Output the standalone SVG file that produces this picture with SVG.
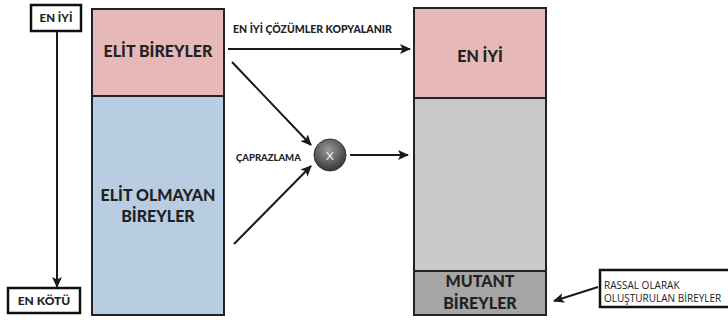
<svg xmlns="http://www.w3.org/2000/svg" width="728" height="320" viewBox="0 0 728 320">
<style>
text{font-family:Lato,"Open Sans","Liberation Sans",sans-serif;font-weight:bold;fill:#222}
.box{fill:#fff;stroke:#111;stroke-width:2.5}
.col{stroke:#222;stroke-width:2}
.ln{stroke:#1a1a1a;stroke-width:2;fill:none;marker-end:url(#ah)}
.big{font-size:16px;text-anchor:middle;font-weight:900}
.sm{font-size:10.5px}
.note{font-weight:normal;font-family:"Open Sans",sans-serif;font-size:10px}
</style>
<defs>
<marker id="ah" markerWidth="12" markerHeight="10" refX="10" refY="5" orient="auto" markerUnits="userSpaceOnUse">
<path d="M0,0 L11,5 L0,10 L2.5,5 z" fill="#1a1a1a"/>
</marker>
<radialGradient id="cg" cx="0.45" cy="0.35" r="0.7">
<stop offset="0" stop-color="#9a9a9a"/>
<stop offset="0.6" stop-color="#5a5a5a"/>
<stop offset="1" stop-color="#2e2e2e"/>
</radialGradient>
</defs>
<rect width="728" height="320" fill="#fff"/>
<g id="scale">
<rect class="box" x="31" y="5" width="50" height="26"/>
<text x="56" y="22" text-anchor="middle" style="font-size:11.5px;font-weight:900">EN İYİ</text>
<rect class="box" x="8" y="288" width="72" height="25"/>
<text x="44" y="305" text-anchor="middle" style="font-size:12px;font-weight:900">EN KÖTÜ</text>
</g>
<g id="left-column">
<rect x="92" y="9" width="132" height="87" fill="#e6b9b8" class="col"/>
<rect x="92" y="96" width="132" height="219" fill="#b9cde2" class="col"/>
<text class="big" x="158" y="57">ELİT BİREYLER</text>
<text class="big" x="158" y="201">ELİT OLMAYAN</text>
<text class="big" x="158" y="222">BİREYLER</text>
</g>
<g id="right-column">
<rect x="414" y="8" width="132" height="90" fill="#e6b9b8" class="col"/>
<rect x="414" y="98" width="132" height="173" fill="#c9c9c9" class="col"/>
<rect x="414" y="271" width="132" height="44" fill="#a5a5a5" class="col"/>
<text class="big" x="480" y="62">EN İYİ</text>
<text class="big" x="480" y="287">MUTANT</text>
<text class="big" x="480" y="309">BİREYLER</text>
</g>
<g id="crossover">
<circle cx="330" cy="155" r="16" fill="url(#cg)" stroke="#333" stroke-width="1"/>
<text x="330" y="160" text-anchor="middle" style="font-size:12px;fill:#eee;font-weight:normal">X</text>
</g>
<g id="random-note">
<rect class="box" x="600" y="270" width="130" height="37" stroke-width="2"/>
<text class="note" x="604" y="289">RASSAL OLARAK</text>
<text class="note" x="604" y="302">OLUŞTURULAN BİREYLER</text>
</g>
<g id="connectors">
<line class="ln" x1="57" y1="31" x2="57" y2="287"/>
<line class="ln" x1="228" y1="49" x2="410" y2="49"/>
<line class="ln" x1="232" y1="62" x2="311" y2="145"/>
<line class="ln" x1="234" y1="244" x2="311" y2="166"/>
<line class="ln" x1="350" y1="155" x2="408" y2="155"/>
<line class="ln" x1="598" y1="287" x2="554" y2="301"/>
</g>
<g id="labels">
<text class="sm" x="233" y="33" style="font-weight:900">EN İYİ ÇÖZÜMLER KOPYALANIR</text>
<text class="sm" x="236" y="161" style="font-size:9.5px;font-weight:900">ÇAPRAZLAMA</text>
</g>
</svg>
